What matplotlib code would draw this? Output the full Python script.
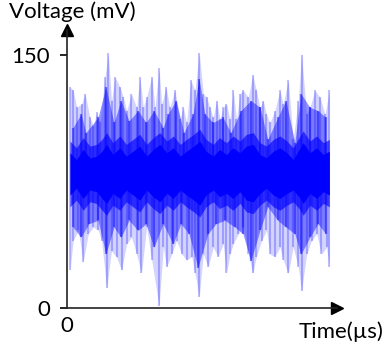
import matplotlib.pyplot as plt
import numpy as np


# outer (faint) peaks of the noise
top_t = [1.1, 2.3, 3.6, 5.4, 6.7, 8.5, 9.8, 11.0, 12.2, 14.1, 15.3, 16.5, 17.8,
         19.6, 20.9, 22.1, 23.9, 25.8, 27.0, 28.3, 29.5, 31.4, 32.6, 34.1, 35.1,
         36.7, 38.1, 40.0, 41.9, 43.1, 44.3, 45.9, 47.4, 49.0, 50.5, 51.7, 52.9,
         54.2, 55.4, 56.7, 57.9, 59.1, 60.4, 61.6, 62.8, 64.1, 65.3, 67.2, 68.8,
         70.2, 71.5, 72.7, 73.9, 75.2, 77.0, 78.9, 80.1, 82.0, 83.8, 85.7, 86.9,
         88.8, 90.0, 91.9, 93.7, 95.6, 97.2]
top_v = [131, 129, 119, 121, 127, 113, 108, 116, 110, 137, 151, 123, 137,
         131, 125, 117, 127, 119, 137, 119, 125, 137, 119, 142, 121,
         131, 119, 129, 112, 119, 110, 135, 129, 151, 127, 125, 119,
         113, 123, 112, 119, 121, 112, 129, 112, 127, 129, 125, 138,
         129, 119, 123, 115, 110, 117, 129, 121, 135, 100, 123, 150,
         115, 119, 129, 125, 115, 129]

bot_t = [1.1, 2.3, 4.2, 6.0, 7.9, 9.8, 11.6, 12.8, 14.7, 16.5, 18.4, 20.2,
         22.1, 23.9, 25.8, 27.6, 29.5, 31.4, 34.1, 35.7, 36.9, 38.8, 40.6,
         42.5, 44.3, 46.2, 47.4, 49.0, 50.5, 52.3, 54.2, 56.0, 57.9, 59.1,
         60.4, 61.6, 63.5, 65.3, 67.2, 68.8, 70.2, 72.1, 73.9, 75.2, 77.0,
         78.9, 80.1, 82.0, 83.8, 85.7, 86.9, 88.8, 90.6, 92.5, 94.3, 96.2, 97.2]
bot_v = [22.5, 40, 46, 27.5, 44, 48, 46, 40, 12, 34, 30, 22.5,
         38, 42, 32, 20.6, 48, 28.5, 1, 36, 24.5, 32, 40,
         32, 28.5, 30.5, 20.6, 6.7, 32, 24.5, 36, 30.5, 38, 20.6,
         32, 38, 44, 48, 32, 20.6, 30.5, 40, 46, 32, 30.5,
         36, 28.5, 20.6, 36, 24.5, 10, 32, 40, 44, 32, 36, 24.5]

# stronger (more frequent) swings
mid_top_t = [2.2, 5.2, 7.0, 11.5, 14.4, 17.4, 20.0, 23.0, 26.3, 29.3, 32.2,
             35.6, 37.4, 40.4, 43.3, 46.7, 48.9, 51.1, 54.1, 57.8, 60.7, 64.4,
             68.1, 71.5, 74.4, 78.1, 81.1, 84.4, 86.7, 90.0, 93.0, 95.9]
mid_top_v = [107, 115, 104, 113, 131, 110, 123, 111, 117, 110, 117,
             107, 115, 123, 104, 115, 136, 115, 110, 113, 104, 117,
             123, 119, 100, 113, 123, 98, 127, 119, 117, 113]
mid_bot_t = [2.2, 5.2, 8.1, 11.5, 14.4, 17.4, 20.0, 23.0, 26.3, 29.3, 32.2,
             35.6, 39.3, 42.2, 45.2, 48.5, 52.2, 55.2, 58.5, 62.2, 65.2, 68.1,
             71.5, 74.4, 78.1, 81.1, 84.4, 86.7, 90.0, 93.0, 95.9]
mid_bot_v = [48, 42, 50, 52, 32, 48, 42, 52, 46, 50, 36,
             50, 38, 50, 44, 24, 44, 50, 52, 48, 44, 28,
             46, 60, 52, 48, 44, 32, 42, 50, 44]

# solid core
core_t = [1.1, 3.5, 6.0, 8.5, 11.0, 13.0, 14.7, 17.0, 19.6, 22.0, 24.5, 27.0,
          29.5, 32.0, 34.4, 37.0, 39.4, 42.0, 44.3, 47.0, 49.2, 51.5, 54.2,
          56.5, 59.1, 61.5, 64.1, 66.5, 69.0, 71.5, 73.9, 76.5, 78.9, 81.5,
          83.8, 86.0, 87.5, 90.0, 92.5, 95.0, 97.2]
core_hi = [99, 95, 101, 96, 97, 100, 104, 98, 102, 97, 100, 103,
           97, 101, 104, 99, 102, 97, 100, 103, 106, 100, 97,
           101, 98, 102, 99, 103, 104, 98, 96, 100, 102, 99,
           95, 101, 105, 99, 102, 98, 100]
core_lo = [60, 64, 58, 63, 62, 58, 55, 61, 58, 63, 60, 57,
           63, 59, 56, 61, 58, 63, 60, 57, 54, 60, 63,
           59, 61, 58, 62, 57, 56, 61, 64, 60, 58, 61,
           63, 59, 55, 61, 58, 62, 60]

blue = '#0000ff'

fig = plt.figure(figsize=(3.85, 3.45), dpi=100)
ax = fig.add_axes([0.174, 0.107, 0.701, 0.806])

# faint envelope and strokes
grid = np.array(sorted(set(top_t + bot_t)))
ax.fill_between(grid, np.interp(grid, bot_t, bot_v), np.interp(grid, top_t, top_v),
                color=blue, alpha=0.17, lw=0)
ax.vlines(top_t, 80, top_v, color=blue, alpha=0.25, lw=1.5)
ax.vlines(bot_t, bot_v, 80, color=blue, alpha=0.25, lw=1.5)

# stronger swings
grid2 = np.array(sorted(set(mid_top_t + mid_bot_t)))
ax.fill_between(grid2, np.interp(grid2, mid_bot_t, mid_bot_v),
                np.interp(grid2, mid_top_t, mid_top_v), color=blue, alpha=0.42, lw=0)
ax.vlines(mid_top_t, 80, mid_top_v, color=blue, alpha=0.45, lw=1.6)
ax.vlines(mid_bot_t, mid_bot_v, 80, color=blue, alpha=0.45, lw=1.6)

# dense core
ax.fill_between(core_t, core_lo, core_hi, color=blue, alpha=0.65, lw=0)
ax.fill_between(core_t, [v + 7 for v in core_lo], [v - 7 for v in core_hi],
                color=blue, alpha=1.0, lw=0)

ax.set_xlim(0, 100)
ax.set_ylim(0, 164.8)
ax.set_yticks([0, 150])
ax.set_yticklabels(['0', '150'])
ax.set_xticks([0])
ax.set_xticklabels(['0'])

for s in ['top', 'right']:
    ax.spines[s].set_visible(False)
for s in ['left', 'bottom']:
    ax.spines[s].set_linewidth(1.2)
    ax.spines[s].set_color('#222222')

ax.tick_params(axis='y', direction='out', length=5, width=1.2, pad=7,
               labelsize=16, labelfontfamily='Lato')
ax.tick_params(axis='x', length=0, pad=6, labelsize=16, labelfontfamily='Lato')

# axis arrows
ax.plot(0, 1, marker='^', color='black', markersize=8, transform=ax.transAxes, clip_on=False)
ax.plot(1, 0, marker='>', color='black', markersize=8, transform=ax.transAxes, clip_on=False)

fig.text(0.024, 0.995, 'Voltage (mV)', ha='left', va='top', fontsize=16, family='Lato')
fig.text(0.997, 0.01, 'Time(µs)', ha='right', va='bottom', fontsize=16, family='Lato')

fig.savefig('out.png', dpi=100)
